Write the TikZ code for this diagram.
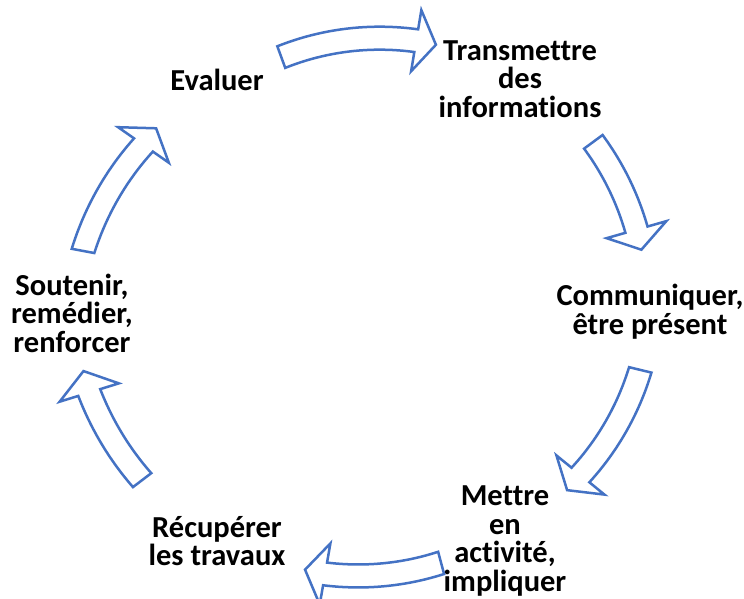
\documentclass[tikz,border=0pt]{standalone}
\usepackage{fontspec}
\setmainfont[Ligatures=NoCommon]{Carlito}
\definecolor{arrowblue}{HTML}{4472C4}
\tikzset{
  cyc/.style={draw=arrowblue, line width=2.5pt, fill=white, line join=miter},
  lbl/.style={font=\bfseries\fontsize{30.5}{28.5}\selectfont, align=center, inner sep=0pt, text=black}
}
\def\cyW{11.5}
\def\cyHW{31}
\newcommand\cycarrow[4]{%
  \pgfmathsetmacro\cyA{#1}%
  \pgfmathsetmacro\cyT{#2}%
  \pgfmathsetmacro\cyRA{#3}%
  \pgfmathsetmacro\cyRT{#4}%
  \pgfmathsetmacro\cyH{(\cyT)-4.3}%
  \pgfmathsetmacro\cyD{(\cyH)-(\cyA)}%
  \pgfmathsetmacro\cyQ{(\cyRT)-(\cyRA)}%
  \draw[cyc] (\cyA:{\cyRA+\cyW})
    \foreach \i in {1,...,24}{ -- ({\cyA+\i/24*(\cyD)}:{\cyRA+\i/24*(\cyQ)+\cyW}) }
    -- (\cyH:{\cyRT+\cyHW}) -- (\cyT:\cyRT) -- (\cyH:{\cyRT-\cyHW})
    \foreach \i in {24,...,0}{ -- ({\cyA+\i/24*(\cyD)}:{\cyRA+\i/24*(\cyQ)-\cyW}) }
    -- cycle;
}
\begin{document}
\begin{tikzpicture}[x=1pt,y=-1pt]
\useasboundingbox[fill=white] (0,0) rectangle (744,599);
\begin{scope}[shift={(372,305)}]
  \cycarrow{-110.1}{-76.2}{264}{268}
  \cycarrow{-36.4}{-11.6}{275}{275}
  \cycarrow{13.6}{43.5}{276}{269}
  \cycarrow{75}{104.2}{267}{273}
  \cycarrow{142.7}{167.1}{289}{296}
  \cycarrow{190.6}{219.3}{294}{279}
\end{scope}
\node[lbl] (ev) at (217,80) {Evaluer};
\node[lbl] (tr) at (520,79) {Transmettre\\des\\informations};
\node[lbl] (co) at (650,311.5) {Communiquer,\\être présent};
\node[lbl] (me) at (505,541) {Mettre\\en\\activité,\\impliquer};
\node[lbl] (re) at (217,541) {Récupérer\\les travaux};
\node[lbl] (so) at (72,313) {Soutenir,\\remédier,\\renforcer};
\end{tikzpicture}
\end{document}
